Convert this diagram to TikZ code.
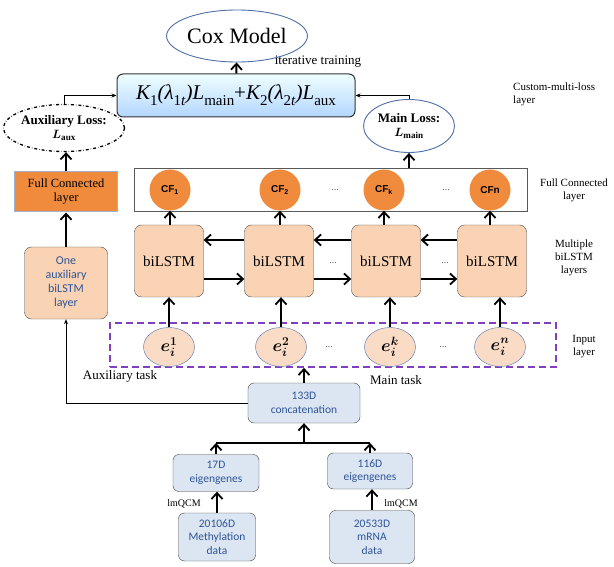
\documentclass[tikz,border=0pt]{standalone}
\usepackage{fontspec}
\setmainfont{Liberation Serif}
\newfontfamily\calib{Carlito}
\newfontfamily\arialf{Liberation Sans}
\usetikzlibrary{arrows.meta,shapes.geometric}
\definecolor{peach}{HTML}{F9D3B4}
\definecolor{epeach}{HTML}{FADCC6}
\definecolor{cforange}{HTML}{F08A3C}
\definecolor{fcborder}{HTML}{9CB2CF}
\definecolor{lineblue}{HTML}{4F6FA8}
\definecolor{dblue}{HTML}{DCE6F2}
\definecolor{tblue}{HTML}{2F5597}
\definecolor{inpurple}{HTML}{7F3FBF}
\newcommand{\lsub}[1]{\raisebox{-0.3em}{\fontsize{15}{15}\selectfont\upshape #1}}
\begin{document}
\begin{tikzpicture}[x=1pt,y=-1pt,
    every node/.style={inner sep=0pt,align=center},
    arr/.style={-{Straight Barb[length=6pt,width=11pt,line width=1.8pt]},line width=2pt},
    thinarr/.style={-{Stealth[length=5pt,width=4pt]},line width=0.9pt},
    lstm/.style={draw=black!70,fill=peach,rounded corners=7pt,minimum width=69pt,minimum height=72pt,font=\fontsize{15}{17}\selectfont},
    cfnode/.style={circle,fill=cforange,minimum size=41pt,font=\arialf\bfseries\fontsize{10}{11}\selectfont},
    enode/.style={ellipse,draw=lineblue,fill=epeach,minimum width=51pt,minimum height=39pt,font=\boldmath\fontsize{18}{18}\selectfont},
    databox/.style={draw=black!75,fill=dblue,rounded corners=6pt,text=tblue,font=\calib\fontsize{11.5}{13.5}\selectfont},
    sidelabel/.style={font=\fontsize{11}{13}\selectfont},
    dotsnode/.style={text=black!60,font=\fontsize{10}{10}\selectfont}]
\useasboundingbox (0,0) rectangle (614,567);
\node[ellipse,draw=lineblue,line width=0.9pt,minimum width=100pt,minimum height=52pt,font=\fontsize{22}{24}\selectfont] (cox) at (237,36) {Cox Model};
\node[draw=black!80,line width=1pt,rounded corners=6pt,top color=cyan!6,bottom color=cyan!45!blue!30,minimum width=238pt,minimum height=43pt,font=\fontsize{21}{22}\selectfont\itshape] (loss) at (236,95.5) {K\lsub{1}(λ\lsub{1\textit{t}})L\lsub{main}\upshape{+}\itshape K\lsub{2}(λ\lsub{2\textit{t}})L\lsub{aux}};
\node[font=\fontsize{13}{15}\selectfont] (iter) at (318,62) {iterative training};
\node[sidelabel,anchor=west,align=left] (custom) at (513,94) {Custom-multi-loss\\layer};
\node[ellipse,draw,dash dot,line width=1.3pt,minimum width=103pt,minimum height=47pt,font=\bfseries\fontsize{13}{14}\selectfont] (auxloss) at (64,128) {Auxiliary Loss:\\{\boldmath$L_{\mathrm{aux}}$}};
\node[ellipse,draw=lineblue,line width=0.9pt,minimum width=91pt,minimum height=53pt,font=\bfseries\fontsize{13}{14}\selectfont] (mainloss) at (409,126) {Main Loss:\\{\boldmath$L_{\mathrm{main}}$}};
\node[draw=fcborder,line width=1pt,fill=cforange,minimum width=103pt,minimum height=40pt,font=\fontsize{12.5}{14}\selectfont] (fcaux) at (66,192) {Full Connected\\layer};
\node[draw=black!65,line width=1pt,minimum width=393pt,minimum height=43pt] (fcbox) at (330.5,190.5) {};
\node[cfnode] (cf1) at (170,190) {CF\textsubscript{1}};
\node[cfnode] (cf2) at (280,190) {CF\textsubscript{2}};
\node[cfnode] (cfk) at (384,190) {CF\textsubscript{k}};
\node[cfnode] (cfn) at (490,190) {CFn};
\node[dotsnode] (cdotsa) at (335,190) {...};
\node[dotsnode] (cdotsb) at (446,190) {...};
\node[sidelabel] (fclabel) at (574,190) {Full Connected\\layer};
\node[lstm] (l1) at (169,261) {biLSTM};
\node[lstm] (l2) at (279,261) {biLSTM};
\node[lstm] (lk) at (386,261) {biLSTM};
\node[lstm] (ln) at (492,261) {biLSTM};
\node[dotsnode] (ldotsa) at (333,263) {...};
\node[dotsnode] (ldotsb) at (445,263) {...};
\node[sidelabel] (lstmlabel) at (574,258) {Multiple\\biLSTM\\layers};
\node[draw=black!70,fill=peach,rounded corners=7pt,minimum width=83pt,minimum height=72pt,text=tblue,font=\calib\fontsize{12}{14}\selectfont] (auxlstm) at (66,283) {One\\auxiliary\\biLSTM\\layer};
\node[draw=inpurple,dashed,line width=1.6pt,dash pattern=on 7pt off 4pt,minimum width=446pt,minimum height=44pt] (inbox) at (333,345) {};
\node[enode] (e1) at (169,347) {$e_i^{1}$};
\node[enode] (e2) at (281,347) {$e_i^{2}$};
\node[enode] (ek) at (390,347) {$e_i^{k}$};
\node[enode] (en) at (500,347) {$e_i^{n}$};
\node[dotsnode] (edotsa) at (329,347) {...};
\node[dotsnode] (edotsb) at (443,347) {...};
\node[sidelabel] (inlabel) at (584,347) {Input\\layer};
\node[font=\fontsize{13}{15}\selectfont] (auxtask) at (120,376) {Auxiliary task};
\node[font=\fontsize{13}{15}\selectfont] (maintask) at (396,380) {Main task};
\node[databox,minimum width=112pt,minimum height=40pt] (concat) at (304,403) {133D\\concatenation};
\node[databox,minimum width=86pt,minimum height=37pt] (m17) at (216,473) {17D\\eigengenes};
\node[databox,minimum width=85pt,minimum height=36pt] (m116) at (370,471) {116D\\eigengenes};
\node[databox,minimum width=77pt,minimum height=48pt] (meth) at (217,537) {20106D\\Methylation\\data};
\node[databox,minimum width=85pt,minimum height=53pt] (mrna) at (372,537) {20533D\\mRNA\\data};
\node[font=\fontsize{10}{11}\selectfont] (qcma) at (184,504) {lmQCM};
\node[font=\fontsize{10}{11}\selectfont] (qcmb) at (401,504) {lmQCM};
\coordinate (jn) at (304,443);
\draw[arr] (loss) -- (cox);
\draw[thinarr] (auxloss.north) |- (loss.west);
\draw[thinarr] (mainloss.north) |- (loss.east);
\draw[arr] (fcaux.north) -- (fcaux.north |- auxloss.south);
\draw[arr] (mainloss.south |- fcbox.north) -- (mainloss.south);
\draw[arr] (auxlstm) -- (fcaux);
\draw[thinarr] (concat.west) -| (auxlstm.south);
\draw[arr] (cf1.south |- l1.north) -- (cf1.south);
\draw[arr] (cf2.south |- l2.north) -- (cf2.south);
\draw[arr] (cfk.south |- lk.north) -- (cfk.south);
\draw[arr] (cfn.south |- ln.north) -- (cfn.south);
\draw[arr] ([yshift=21pt]l2.west) -- ([yshift=21pt]l1.east);
\draw[arr] ([yshift=21pt]lk.west) -- ([yshift=21pt]l2.east);
\draw[arr] ([yshift=21pt]ln.west) -- ([yshift=21pt]lk.east);
\draw[arr] ([yshift=-18pt]l1.east) -- ([yshift=-18pt]l2.west);
\draw[arr] ([yshift=-18pt]l2.east) -- ([yshift=-18pt]lk.west);
\draw[arr] ([yshift=-18pt]lk.east) -- ([yshift=-18pt]ln.west);
\draw[arr] (e1.north) -- (e1.north |- l1.south);
\draw[arr] (e2.north) -- (e2.north |- l2.south);
\draw[arr] (ek.north) -- (ek.north |- lk.south);
\draw[arr] (en.north) -- (en.north |- ln.south);
\draw[arr] (concat.north) -- (concat.north |- inbox.south);
\draw[line width=2pt] (m17.north |- jn) -- (m116.north |- jn);
\draw[arr] (m17.north) -- (m17.north |- jn);
\draw[arr] (m116.north) -- (m116.north |- jn);
\draw[arr] (jn) -- (concat.south);
\draw[arr] (meth.north) -- (meth.north |- m17.south);
\draw[arr] (mrna.north) -- (mrna.north |- m116.south);
\end{tikzpicture}
\end{document}
